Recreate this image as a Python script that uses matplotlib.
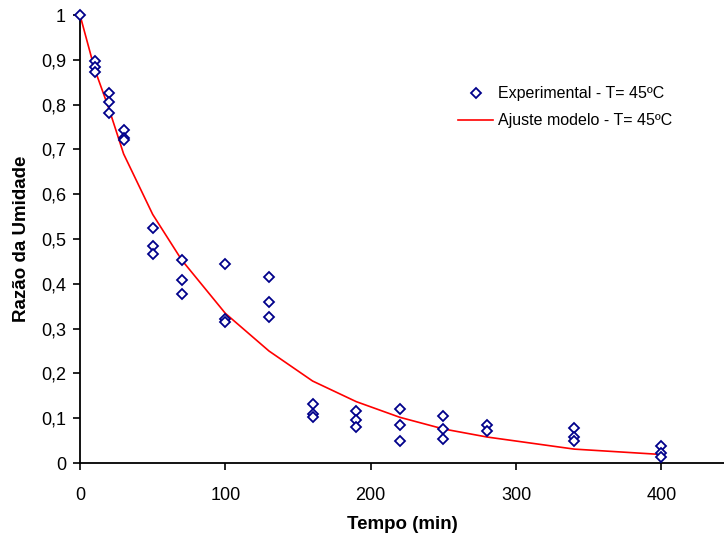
import matplotlib
matplotlib.use("Agg")
import matplotlib.pyplot as plt
from matplotlib.ticker import FuncFormatter

plt.rcParams['font.family'] = ['Liberation Sans', 'DejaVu Sans']

# experimental points (time in min, moisture ratio)
exp_t = [0,
         10, 10, 10,
         20, 20, 20,
         30, 30, 30,
         50, 50, 50,
         70, 70, 70,
         100, 100, 100,
         130, 130, 130,
         160, 160, 160,
         190, 190, 190,
         220, 220, 220,
         250, 250, 250,
         280, 280,
         340, 340, 340,
         400, 400, 400]
exp_mr = [1.0,
          0.897, 0.885, 0.872,
          0.825, 0.805, 0.781,
          0.743, 0.726, 0.721,
          0.525, 0.484, 0.466,
          0.453, 0.408, 0.377,
          0.445, 0.321, 0.314,
          0.415, 0.359, 0.325,
          0.131, 0.109, 0.103,
          0.115, 0.096, 0.081,
          0.120, 0.085, 0.048,
          0.106, 0.075, 0.054,
          0.085, 0.072,
          0.079, 0.059, 0.048,
          0.038, 0.022, 0.014]

# fitted model
fit_t = [0, 10, 20, 30, 50, 70, 100, 130, 160, 190, 220, 250, 280, 340, 400]
fit_mr = [1.0, 0.88, 0.79, 0.69, 0.555, 0.453, 0.334, 0.25, 0.183, 0.137,
          0.102, 0.076, 0.058, 0.031, 0.019]

fig = plt.figure(figsize=(7.24, 5.37), dpi=100)
ax = fig.add_axes([0.1105, 0.1378, 0.8895, 0.8342])

ax.plot(exp_t, exp_mr, linestyle='none', marker='D', markersize=5,
        markerfacecolor='white', markeredgecolor='#00008B', markeredgewidth=1.3,
        label='Experimental - T= 45ºC', clip_on=False, zorder=3)
ax.plot(fit_t, fit_mr, color='red', linewidth=1.2,
        label='Ajuste modelo - T= 45ºC', zorder=2)

ax.set_xlim(0, 443)
ax.set_ylim(0, 1)
ax.set_xticks([0, 100, 200, 300, 400])
ax.set_yticks([i / 10 for i in range(11)])
ax.yaxis.set_major_formatter(FuncFormatter(lambda v, p: f'{v:g}'.replace('.', ',')))

for s in ['top', 'right']:
    ax.spines[s].set_visible(False)
for s in ['left', 'bottom']:
    ax.spines[s].set_linewidth(1.3)
ax.tick_params(direction='out', length=5, width=1.2, labelsize=13)
ax.tick_params(axis='x', pad=12)
ax.tick_params(axis='y', pad=5)

ax.set_xlabel('Tempo (min)', fontsize=13.5, fontweight='bold', labelpad=9)
ax.set_ylabel('Razão da Umidade', fontsize=13.5, fontweight='bold', labelpad=8)

ax.legend(loc='upper left', bbox_to_anchor=(0.565, 0.873), frameon=False,
          fontsize=11.5, handlelength=2.2, handletextpad=0.3, labelspacing=0.75)

fig.savefig('out.png', dpi=100)
